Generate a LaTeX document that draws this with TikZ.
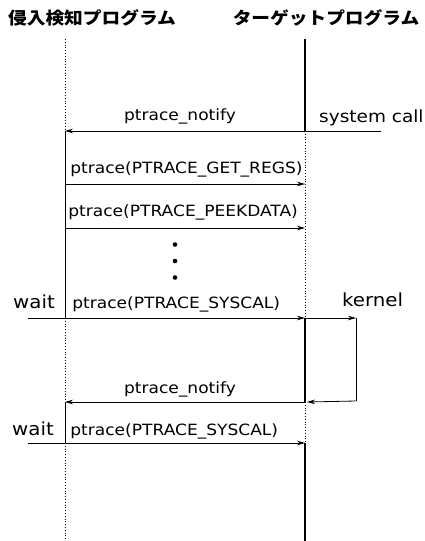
\documentclass[tikz,border=0pt]{standalone}
\usepackage{fontspec}
\setmainfont{DejaVu Sans}[FakeStretch=1.1]
\newfontfamily\jpfont{Noto Sans CJK JP}[FakeStretch=1.1]
\usetikzlibrary{arrows.meta, positioning, calc}

\begin{document}
\begin{tikzpicture}[x=1pt, y=-1pt, >={Stealth[length=8pt, width=4.5pt]},
  msg/.style={->, line width=0.8pt},
  wire/.style={line width=0.8pt},
  life/.style={line width=0.9pt},
  lifebold/.style={line width=1.6pt},
  idle/.style={dotted, line width=0.8pt},
  call/.style={font=\fontsize{15.5}{18}\selectfont, inner sep=0pt},
  side/.style={font=\fontsize{18}{21}\selectfont, anchor=base west, inner sep=0pt},
  title/.style={font=\jpfont\bfseries\fontsize{17}{20}\selectfont, inner sep=0pt}]
  \useasboundingbox (0,0) rectangle (425,541);

  % headers
  \node[title] (ids) at (92,17.5) {侵入検知プログラム};
  \node[title] (tgt) at (326,17.5) {ターゲットプログラム};

  % points on the two lifelines
  \foreach \n/\y in {top/39, n1/131, regs/184, peek/228, sc1/318, n2/402, sc2/443, end/541} {
    \coordinate (L-\n) at (65,\y);
    \coordinate (R-\n) at (305,\y);
  }
  \draw[idle] (L-top) -- (L-n1);
  \draw[life] (L-n1) -- (L-sc1);
  \draw[idle] (L-sc1) -- (L-n2);
  \draw[life] (L-n2) -- (L-sc2);
  \draw[idle] (L-sc2) -- (L-end);
  \draw[lifebold] (R-top) -- (R-n1);
  \draw[idle] (R-n1) -- (R-sc1);
  \draw[lifebold] (R-sc1) -- (R-n2);
  \draw[idle] (R-n2) -- (R-sc2);
  \draw[lifebold] (R-sc2) -- (R-end);

  % system call comes in
  \coordinate (sys) at (381,131);
  \draw[wire] (sys) -- (R-n1);
  \node[side, font=\fontsize{16.8}{20}\selectfont] (syscall) at (319,122) {system call};
  \draw[msg] (R-n1) -- (L-n1)
    node[call, midway, anchor=base, xshift=-5pt, yshift=10.5pt] (notify1) {ptrace\_notify};

  % requests
  \draw[msg] (L-regs) -- (R-regs)
    node[call, at start, anchor=base west, xshift=5pt, yshift=11pt] (getregs) {ptrace(PTRACE\_GET\_REGS)};
  \draw[msg] (L-peek) -- (R-peek)
    node[call, at start, anchor=base west, xshift=3pt, yshift=12pt] (peek) {ptrace(PTRACE\_PEEKDATA)};
  \foreach \y in {244.5,261,277.5}
    \fill (175,\y) circle (2.3pt);

  % first syscall
  \coordinate (w1) at (28,318);
  \draw[wire] (w1) -- (L-sc1);
  \node[side] (wait1) at (13,308) {wait};
  \draw[msg] (L-sc1) -- (R-sc1)
    node[call, at start, anchor=base west, xshift=7pt, yshift=10pt] (syscal1) {ptrace(PTRACE\_SYSCAL)};

  % kernel loop
  \coordinate (K-top) at (356,318);
  \coordinate (K-bot) at (356,401);
  \node[side] (kernel) at (342,306) {kernel};
  \draw[msg] (R-sc1) -- (K-top);
  \draw[wire] (K-top) -- (K-bot);
  \draw[msg] (K-bot) -- ([xshift=2pt]R-n2);
  \draw[msg] (R-n2) -- (L-n2)
    node[call, midway, anchor=base, xshift=-5pt, yshift=9pt] (notify2) {ptrace\_notify};

  % second syscall
  \coordinate (w2) at (28,443);
  \draw[wire] (w2) -- (L-sc2);
  \node[side] (wait2) at (12,435) {wait};
  \draw[msg] (L-sc2) -- (R-sc2)
    node[call, at start, anchor=base west, xshift=5pt, yshift=8pt] (syscal2) {ptrace(PTRACE\_SYSCAL)};
\end{tikzpicture}
\end{document}
